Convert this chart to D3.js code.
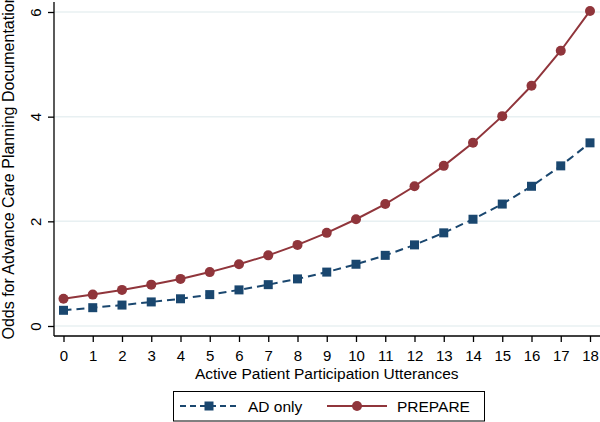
<!DOCTYPE html>
<html>
<head>
<meta charset="utf-8">
<script src="https://cdn.jsdelivr.net/npm/d3@7"></script>
<style>
  body { margin: 0; background: #fff; }
  svg { display: block; font-family: "Liberation Sans", Arial, sans-serif; }
</style>
</head>
<body>
<div id="chart"></div>
<script>
const utterances = d3.range(0, 19);
const adOnly = [0.30, 0.35, 0.40, 0.46, 0.52, 0.60, 0.69, 0.79, 0.90, 1.03, 1.18, 1.35, 1.55, 1.78, 2.04, 2.33, 2.67, 3.06, 3.50];
const prepare = [0.52, 0.60, 0.69, 0.79, 0.90, 1.03, 1.18, 1.35, 1.55, 1.78, 2.04, 2.33, 2.67, 3.06, 3.50, 4.01, 4.59, 5.26, 6.02];
const yTicks = [0, 2, 4, 6];

const width = 600, height = 422;
const navy = "#1a476f", maroon = "#90353b";
const font = "Liberation Sans, Arial, sans-serif";

const svg = d3.select("#chart").append("svg")
    .attr("width", width)
    .attr("height", height)
    .attr("viewBox", [0, 0, width, height]);

const x = d3.scaleLinear().domain([0, 18]).range([63.5, 590]);
const y = d3.scaleLinear().domain([0, 6]).range([326, 12]);

const axisX = 54, axisY = 336;

// grid lines
svg.append("g")
    .selectAll("line")
    .data(yTicks)
    .join("line")
    .attr("x1", axisX)
    .attr("x2", width)
    .attr("y1", d => y(d))
    .attr("y2", d => y(d))
    .attr("stroke", "#e8f0f2")
    .attr("stroke-width", 1.5);

// axes
const gx = svg.append("g")
    .attr("transform", `translate(0,${axisY})`)
    .call(d3.axisBottom(x).tickValues(utterances).tickFormat(d3.format("d")).tickSize(6).tickPadding(8).tickSizeOuter(0));
gx.attr("font-size", 15).attr("font-family", font);
gx.select(".domain").attr("d", `M${axisX},0H${width}`).attr("stroke", "#000").attr("stroke-width", 1.3);
gx.selectAll(".tick line").attr("stroke", "#000").attr("stroke-width", 1.3);
gx.selectAll(".tick text").attr("fill", "#000");

const gy = svg.append("g")
    .attr("transform", `translate(${axisX},0)`)
    .call(d3.axisLeft(y).tickValues(yTicks).tickFormat(d3.format("d")).tickSize(6).tickSizeOuter(0));
gy.attr("font-size", 15).attr("font-family", font);
gy.select(".domain").attr("d", `M0,2V${axisY}`).attr("stroke", "#000").attr("stroke-width", 1.3);
gy.selectAll(".tick line").attr("stroke", "#000").attr("stroke-width", 1.3);
gy.selectAll(".tick text")
    .attr("fill", "#000")
    .attr("text-anchor", "middle")
    .attr("x", null).attr("dy", null)
    .attr("transform", "translate(-13,0) rotate(-90)");

// axis titles
svg.append("text")
    .attr("x", (63.5 + 590) / 2)
    .attr("y", 379)
    .attr("text-anchor", "middle")
    .attr("font-size", 15.5)
    .text("Active Patient Participation Utterances");

// the reference cuts this title at the top edge too
svg.append("text")
    .attr("transform", "translate(13.5,167) rotate(-90)")
    .attr("text-anchor", "middle")
    .attr("font-size", 16)
    .text("Odds for Advance Care Planning Documentation");

const line = d3.line().x((d, i) => x(utterances[i])).y(d => y(d));

// AD only
svg.append("path")
    .attr("d", line(adOnly))
    .attr("fill", "none")
    .attr("stroke", navy)
    .attr("stroke-width", 2)
    .attr("stroke-dasharray", "8,5");
svg.append("g")
    .selectAll("rect")
    .data(adOnly)
    .join("rect")
    .attr("x", (d, i) => x(utterances[i]) - 4.5)
    .attr("y", d => y(d) - 4.5)
    .attr("width", 9)
    .attr("height", 9)
    .attr("fill", navy);

// PREPARE
svg.append("path")
    .attr("d", line(prepare))
    .attr("fill", "none")
    .attr("stroke", maroon)
    .attr("stroke-width", 2);
svg.append("g")
    .selectAll("circle")
    .data(prepare)
    .join("circle")
    .attr("cx", (d, i) => x(utterances[i]))
    .attr("cy", d => y(d))
    .attr("r", 5)
    .attr("fill", maroon);

// legend
const lg = svg.append("g");
lg.append("rect")
    .attr("x", 173.5).attr("y", 391.5)
    .attr("width", 311).attr("height", 29.5)
    .attr("fill", "#fff").attr("stroke", "#000").attr("stroke-width", 1);
const ly = 406;
lg.append("line")
    .attr("x1", 180).attr("x2", 240).attr("y1", ly).attr("y2", ly)
    .attr("stroke", navy).attr("stroke-width", 2).attr("stroke-dasharray", "6,4");
lg.append("rect")
    .attr("x", 204.5).attr("y", ly - 4.5).attr("width", 9).attr("height", 9)
    .attr("fill", navy);
lg.append("text").attr("x", 248).attr("y", ly + 5.5).attr("font-size", 15.5).text("AD only");
lg.append("line")
    .attr("x1", 327).attr("x2", 387).attr("y1", ly).attr("y2", ly)
    .attr("stroke", maroon).attr("stroke-width", 2);
lg.append("circle").attr("cx", 357).attr("cy", ly).attr("r", 5).attr("fill", maroon);
lg.append("text").attr("x", 397).attr("y", ly + 5.5).attr("font-size", 15.5).text("PREPARE");
</script>
</body>
</html>
